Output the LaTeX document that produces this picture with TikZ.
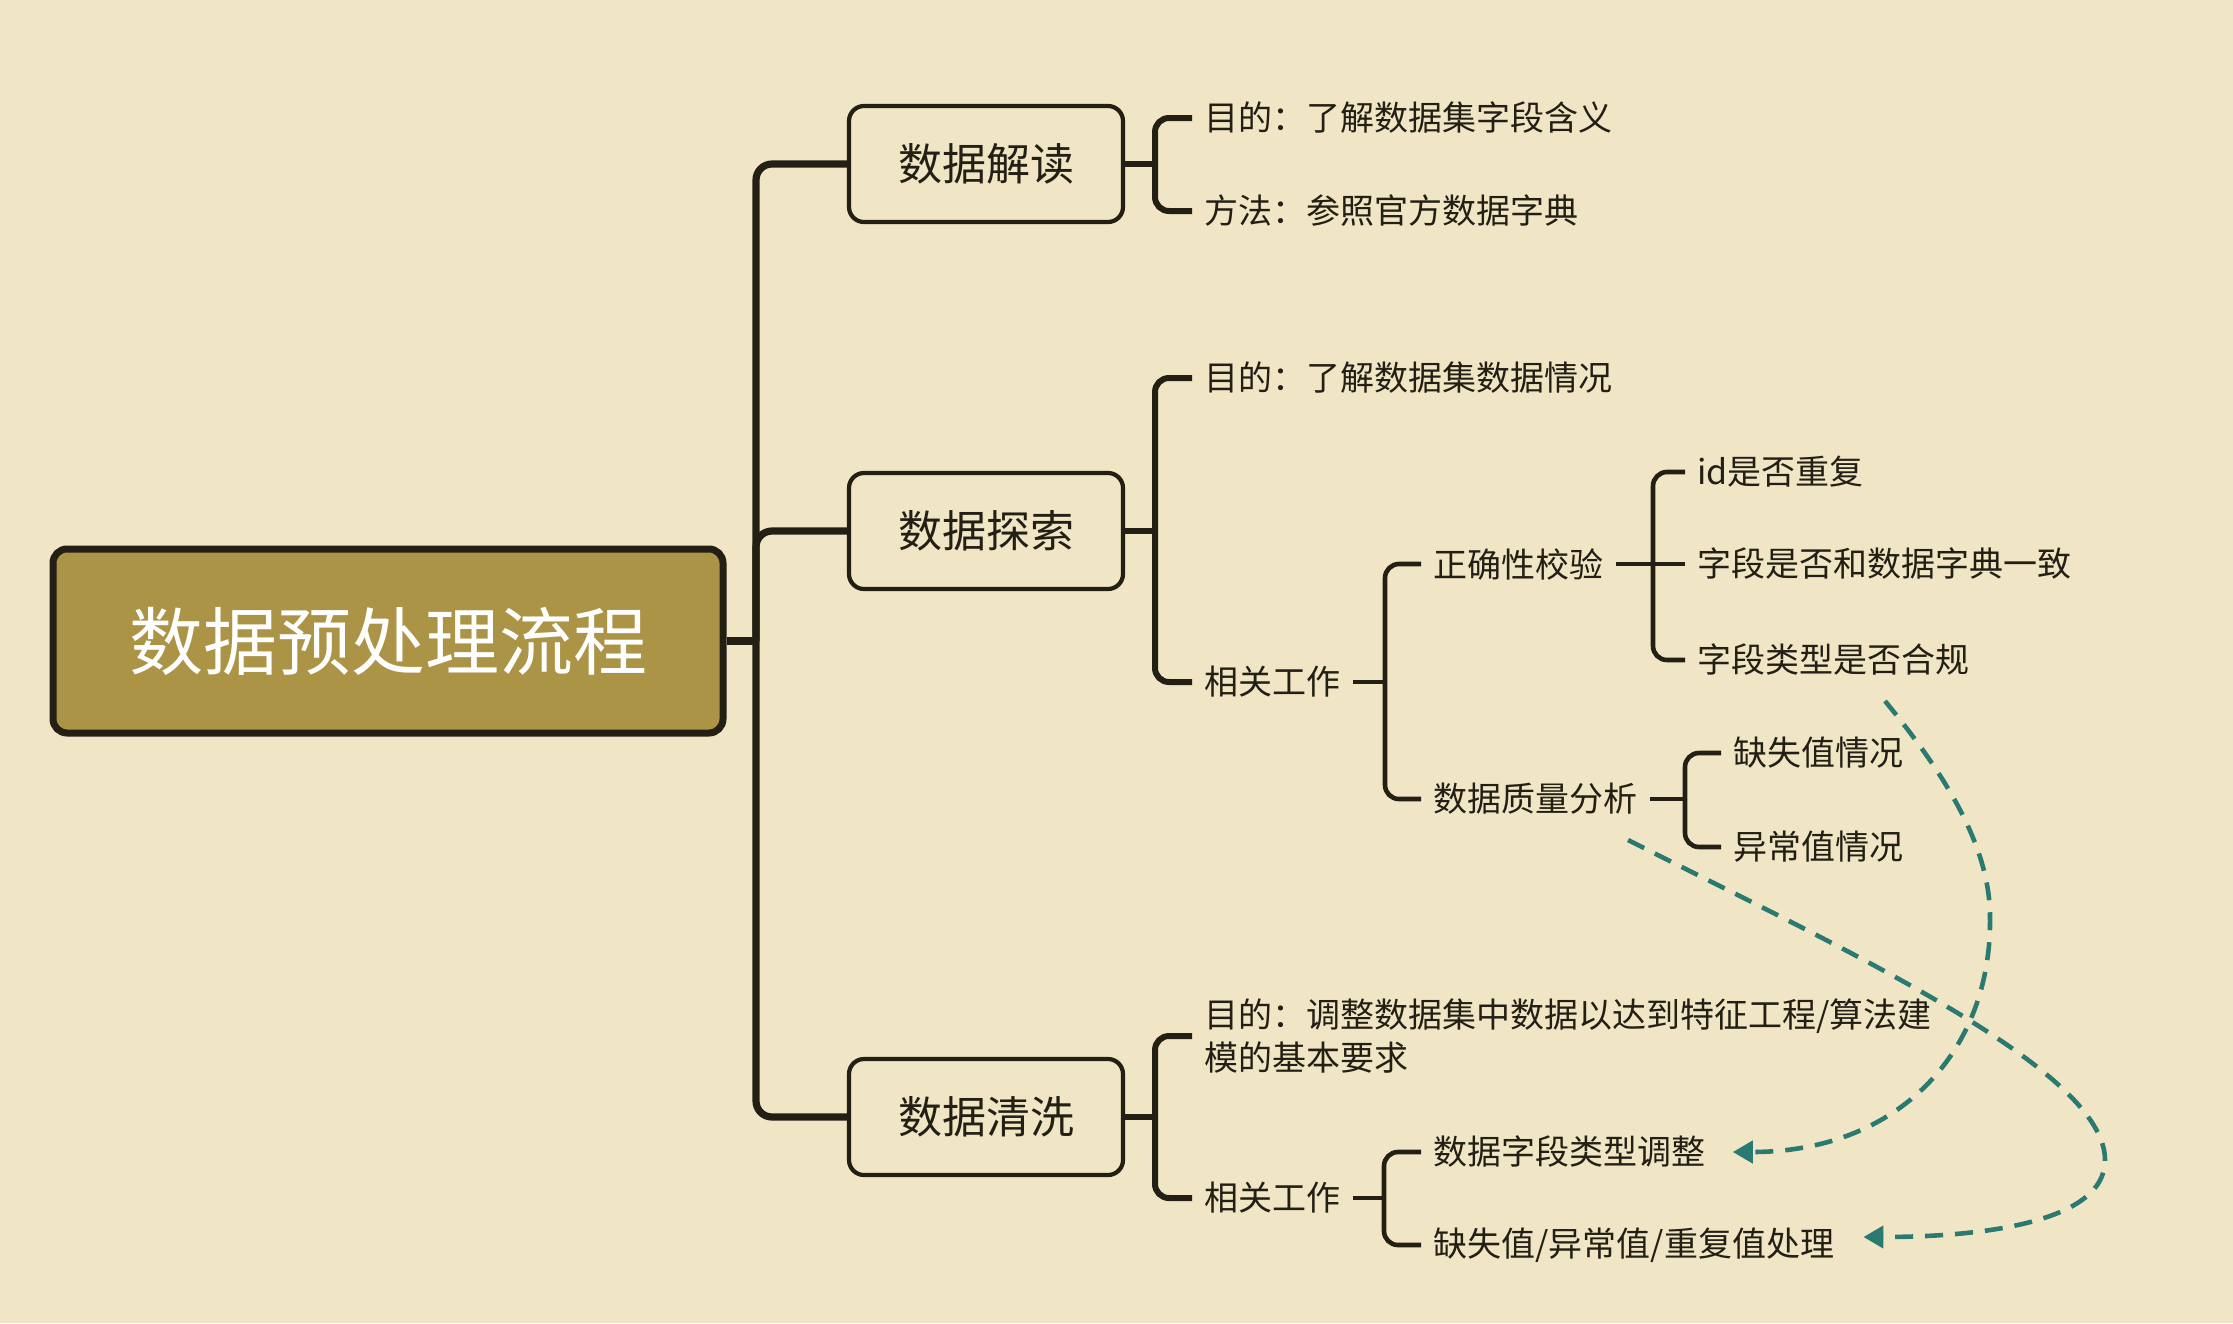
\documentclass[tikz,border=0pt]{standalone}
\usepackage{fontspec}
\setmainfont{Noto Sans CJK SC}
\usetikzlibrary{arrows.meta,calc}
\definecolor{bgc}{HTML}{F0E6C5}
\definecolor{ink}{HTML}{231F14}
\definecolor{gold}{HTML}{AC9446}
\definecolor{tealc}{HTML}{2A7A72}
\begin{document}
\begin{tikzpicture}[x=0.5pt,y=-0.5pt,
 rootbox/.style={draw=ink, line width=3.5pt, fill=gold, rounded corners=7pt, minimum width=335pt, minimum height=92pt, text=white, font=\fontsize{37}{44}\selectfont, inner sep=0pt},
 l1box/.style={draw=ink, line width=2.1pt, rounded corners=7.5pt, minimum width=137pt, minimum height=58pt, text=ink, font=\fontsize{22}{26}\selectfont, inner sep=0pt},
 leaf/.style={anchor=west, inner xsep=6pt, inner ysep=0pt, text=ink, font=\fontsize{17}{21.5}\selectfont, align=left},
 trunk/.style={draw=ink, line width=3.6pt, rounded corners=8pt},
 brtwo/.style={draw=ink, line width=3pt, rounded corners=7pt},
 brthree/.style={draw=ink, line width=2.3pt, rounded corners=7pt},
 link/.style={draw=tealc, line width=2.3pt, dash pattern=on 9pt off 6pt, -{Triangle[length=10pt,width=11pt]}}]
\fill[bgc] (0,0) rectangle (2233,1323);
\useasboundingbox (0,0) rectangle (2233,1323);

% nodes
\node[rootbox] (root) at (388,641) {数据预处理流程};
\node[l1box] (jd) at (986,164) {数据解读};
\node[l1box] (ts) at (986,531) {数据探索};
\node[l1box] (qx) at (986,1117) {数据清洗};

\node[leaf] (jd1) at (1192,118) {目的：了解数据集字段含义};
\node[leaf] (jd2) at (1192,211) {方法：参照官方数据字典};
\node[leaf] (ts1) at (1192,378) {目的：了解数据集数据情况};
\node[leaf] (ts2) at (1192,682) {相关工作};
\node[leaf] (zq) at (1421,564) {正确性校验};
\node[leaf] (zl) at (1421,799) {数据质量分析};
\node[leaf] (zq1) at (1685,472) {id是否重复};
\node[leaf] (zq2) at (1685,564) {字段是否和数据字典一致};
\node[leaf] (zq3) at (1685,660) {字段类型是否合规};
\node[leaf] (zl1) at (1721,753) {缺失值情况};
\node[leaf] (zl2) at (1721,847) {异常值情况};
\node[leaf] (qx1) at (1192,1036) {目的：调整数据集中数据以达到特征工程/算法建\\模的基本要求};
\node[leaf] (qx2) at (1192,1198) {相关工作};
\node[leaf] (qa) at (1421,1152) {数据字段类型调整};
\node[leaf] (qb) at (1421,1245) {缺失值/异常值/重复值处理};

% trunk
\coordinate (tj) at (756,641);
\draw[trunk] (root.east) -- (tj);
\draw[trunk] (tj) |- (jd.west);
\draw[trunk] (tj) |- (ts.west);
\draw[trunk] (tj) |- (qx.west);

% level-1 brackets
\coordinate (jdv) at (1155,164);
\draw[brtwo] (jd.east) -- (jdv);
\draw[brtwo] (jdv) |- (jd1.west);
\draw[brtwo] (jdv) |- (jd2.west);

\coordinate (tsv) at (1155,531);
\draw[brtwo] (ts.east) -- (tsv);
\draw[brtwo] (tsv) |- (ts1.west);
\draw[brtwo] (tsv) |- (ts2.west);

\coordinate (qxv) at (1155,1117);
\draw[brtwo] (qx.east) -- (qxv);
\draw[brtwo] (qxv) |- (qx1.west);
\draw[brtwo] (qxv) |- (qx2.west);

% level-2 brackets
\coordinate (ts2v) at (1385,682);
\draw[brthree] (ts2.east) -- (ts2v);
\draw[brthree] (ts2v) |- (zq.west);
\draw[brthree] (ts2v) |- (zl.west);

\coordinate (zqv) at (1653,564);
\draw[brthree] (zq.east) -- (zqv);
\draw[brthree] (zqv) |- (zq1.west);
\draw[brthree] (zqv) -- (zq2.west);
\draw[brthree] (zqv) |- (zq3.west);

\coordinate (zlv) at (1685,799);
\draw[brthree] (zl.east) -- (zlv);
\draw[brthree] (zlv) |- (zl1.west);
\draw[brthree] (zlv) |- (zl2.west);

\coordinate (qx2v) at (1384,1198);
\draw[brthree] (qx2.east) -- (qx2v);
\draw[brthree] (qx2v) |- (qa.west);
\draw[brthree] (qx2v) |- (qb.west);

% dashed links
\coordinate (la) at (1885,701);
\coordinate (lb) at (1628,840);
\draw[link] (la) .. controls (1950,780) and (1990,850) .. (1990,917)
  .. controls (1992,1050) and (1900,1152) .. ($(qa.east)+(15,0)$);
\draw[link] (lb) .. controls (1850,952) and (2105,1070) .. (2105,1160)
  .. controls (2105,1230) and (1950,1237) .. ($(qb.east)+(17,-8)$);
\end{tikzpicture}
\end{document}
